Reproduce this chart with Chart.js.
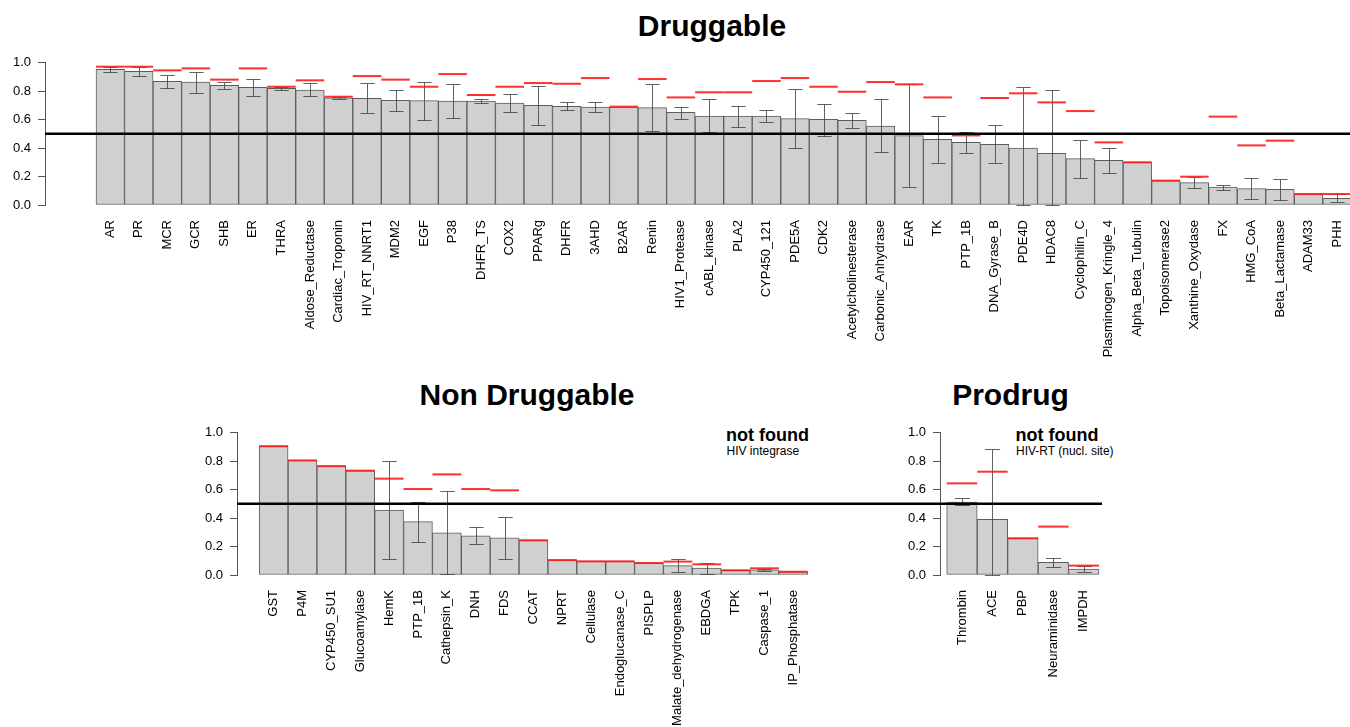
<!DOCTYPE html>
<html>
<head>
<meta charset="utf-8">
<script src="https://cdn.jsdelivr.net/npm/chart.js@4.4.1/dist/chart.umd.min.js"></script>
<style>
  html, body { margin: 0; padding: 0; background: #fff; }
  body { width: 1350px; height: 727px; overflow: hidden; position: relative;
         font-family: "Liberation Sans", Arial, sans-serif; color: #000; }
  canvas { position: absolute; }
  .title { position: absolute; font-weight: bold; font-size: 30px; line-height: 30px;
           white-space: nowrap; transform: translateX(-50%); }
  .nf { position: absolute; font-weight: bold; font-size: 18px; line-height: 18px; white-space: nowrap; }
  .nfs { position: absolute; font-size: 12px; line-height: 12px; white-space: nowrap; }
</style>
</head>
<body>
<div class="title" style="left:712px; top:10.6px;">Druggable</div>
<div class="title" style="left:527px; top:380px;">Non Druggable</div>
<div class="title" style="left:1010.5px; top:380px;">Prodrug</div>
<div class="nf" style="left:726px; top:425.5px;">not found</div>
<div class="nfs" style="left:726.5px; top:444.5px;">HIV integrase</div>
<div class="nf" style="left:1015.5px; top:425.5px;">not found</div>
<div class="nfs" style="left:1016px; top:445px;">HIV-RT (nucl. site)</div>

<canvas id="c1" width="1420" height="360" style="left:0px; top:0px; width:1420px; height:360px;"></canvas>
<canvas id="c2" width="748" height="360" style="left:192px; top:370px; width:748px; height:360px;"></canvas>
<canvas id="c3" width="210" height="360" style="left:895px; top:370px; width:210px; height:360px;"></canvas>

<script>
// ---- Druggable targets ----
const drugNames = ['AR','PR','MCR','GCR','SHB','ER','THRA','Aldose_Reductase','Cardiac_Troponin',
  'HIV_RT_NNRT1','MDM2','EGF','P38','DHFR_TS','COX2','PPARg','DHFR','3AHD','B2AR','Renin',
  'HIV1_Protease','cABL_kinase','PLA2','CYP450_121','PDE5A','CDK2','Acetylcholinesterase',
  'Carbonic_Anhydrase','EAR','TK','PTP_1B','DNA_Gyrase_B','PDE4D','HDAC8','Cyclophilin_C',
  'Plasminogen_Kringle_4','Alpha_Beta_Tubulin','Topoisomerase2','Xanthine_Oxydase','FX',
  'HMG_CoA','Beta_Lactamase','ADAM33','PHH'];
const drugMean = [0.953,0.939,0.869,0.864,0.841,0.827,0.820,0.808,0.754,0.749,0.735,0.733,0.731,
  0.731,0.717,0.700,0.693,0.689,0.689,0.684,0.651,0.625,0.625,0.625,0.607,0.602,0.595,0.555,
  0.487,0.461,0.440,0.426,0.400,0.363,0.326,0.314,0.300,0.171,0.157,0.126,0.115,0.110,0.077,0.047];
const drugLow = [0.932,0.906,0.822,0.787,0.815,0.768,0.806,0.766,0.748,0.646,0.660,0.600,0.611,
  0.717,0.656,0.564,0.665,0.653,null,0.522,0.604,0.513,0.550,0.581,0.398,0.487,0.543,0.372,
  0.129,0.295,0.365,0.293,0.0,0.0,0.192,0.222,null,null,0.119,0.108,0.040,0.035,null,0.019];
const drugHigh = [0.967,0.967,0.911,0.937,0.862,0.885,0.831,0.855,0.758,0.855,0.810,0.867,0.852,
  0.745,0.778,0.834,0.724,0.726,null,0.848,0.691,0.742,0.698,0.667,0.813,0.712,0.649,0.742,
  0.848,0.623,0.515,0.560,0.827,0.810,0.459,0.400,null,null,0.197,0.138,0.190,0.185,null,0.075];
const drugBest = [0.972,0.972,0.946,0.960,0.881,0.960,0.831,0.876,0.761,0.906,0.881,0.831,0.920,
  0.773,0.831,0.857,0.852,0.892,0.691,0.885,0.756,0.792,0.792,0.871,0.892,0.831,0.796,0.864,
  0.848,0.756,0.489,0.752,0.785,0.721,0.660,0.440,0.300,0.171,0.199,0.621,0.419,0.452,0.077,0.077];

// ---- Non druggable targets ----
const nonNames = ['GST','P4M','CYP450_SU1','Glucoamylase','HemK','PTP_1B','Cathepsin_K','DNH','FDS',
  'CCAT','NPRT','Cellulase','Endoglucanase_C','PISPLP','Malate_dehydrogenase','EBDGA','TPK',
  'Caspase_1','IP_Phosphatase'];
const nonMean = [0.905,0.805,0.765,0.733,0.457,0.375,0.297,0.276,0.262,0.244,0.105,0.096,0.096,
  0.084,0.066,0.049,0.033,0.037,0.023];
const nonLow = [null,null,null,null,0.115,0.234,0.009,0.215,0.112,null,null,null,null,null,
  0.019,0.009,null,0.028,null];
const nonHigh = [null,null,null,null,0.799,0.513,0.588,0.335,0.410,null,null,null,null,null,
  0.110,0.087,null,0.042,null];
const nonBest = [0.905,0.805,0.765,0.733,0.677,0.604,0.707,0.604,0.595,0.244,0.105,0.096,0.096,
  0.084,0.094,0.075,0.033,0.047,0.023];

// ---- Prodrug targets ----
const proNames = ['Thrombin','ACE','PBP','Neuraminidase','IMPDH'];
const proMean = [0.513,0.391,0.258,0.089,0.042];
const proLow  = [0.494,0.0,null,0.059,0.023];
const proHigh = [0.539,0.885,null,0.119,0.066];
const proBest = [0.644,0.726,0.258,0.340,0.066];

const yTicks = [0, 0.2, 0.4, 0.6, 0.8, 1.0];
const threshold = 0.5;

const FONT = "'Liberation Sans', Arial, sans-serif";

function unitPx(chart) {
  const x = chart.scales.x;
  return Math.abs(x.getPixelForValue(1) - x.getPixelForValue(0));
}

// lineToEdge: extend the threshold line to the right edge of the canvas
function makeChart(id, names, mean, low, high, best, xMin, xMax, padRight, lineToEdge) {
  const errorBars = {
    id: 'errorBars_' + id,
    afterDatasetDraw(chart, args) {
      if (args.index !== 0) return;
      const { ctx, scales: { x, y } } = chart;
      const half = unitPx(chart) / 4;
      ctx.save();
      ctx.strokeStyle = 'rgba(70,70,70,0.85)';
      ctx.lineWidth = 1;
      low.forEach((lo, i) => {
        if (lo === null || high[i] === null) return;
        const px = Math.round(x.getPixelForValue(i)) + 0.5;
        const y1 = Math.round(y.getPixelForValue(lo)) + 0.5;
        const y2 = Math.round(y.getPixelForValue(high[i])) + 0.5;
        ctx.beginPath();
        ctx.moveTo(px, y1); ctx.lineTo(px, y2);
        ctx.moveTo(px - half, y1); ctx.lineTo(px + half, y1);
        ctx.moveTo(px - half, y2); ctx.lineTo(px + half, y2);
        ctx.stroke();
      });
      ctx.restore();
    }
  };
  const thresholdLine = {
    id: 'threshold_' + id,
    afterDatasetsDraw(chart) {
      const { ctx, chartArea, scales: { y } } = chart;
      const py = y.getPixelForValue(threshold);
      ctx.save();
      ctx.strokeStyle = '#000';
      ctx.lineWidth = 2.5;
      ctx.beginPath();
      ctx.moveTo(chartArea.left, py);
      ctx.lineTo(lineToEdge ? chart.width : chartArea.right - 3, py);
      ctx.stroke();
      ctx.restore();
    }
  };

  return new Chart(document.getElementById(id), {
    data: {
      datasets: [
        {
          type: 'bar',
          data: mean.map((v, i) => ({ x: i, y: v })),
          backgroundColor: '#d0d0d0',
          borderColor: '#5c5c5c',
          borderWidth: 1,
          borderSkipped: false,
          barPercentage: 1.0,
          categoryPercentage: 1.0,
          order: 2
        },
        {
          type: 'line',
          data: best.map((v, i) => ({ x: i, y: v })),
          showLine: false,
          pointStyle: 'line',
          pointRadius: (c) => unitPx(c.chart) / 2,
          pointHoverRadius: (c) => unitPx(c.chart) / 2,
          pointBorderColor: 'rgba(255,25,25,0.9)',
          pointBorderWidth: 2,
          clip: false,
          order: 1
        }
      ]
    },
    options: {
      responsive: false,
      animation: false,
      devicePixelRatio: 1,
      layout: { padding: { top: 62.7, left: 0, right: padRight, bottom: 0 } },
      plugins: { legend: { display: false }, tooltip: { enabled: false }, title: { display: false } },
      events: [],
      scales: {
        x: {
          type: 'linear',
          min: xMin,
          max: xMax,
          offset: false,
          bounds: 'data',
          grid: { display: false, drawTicks: false, offset: false },
          border: { display: false },
          // one tick per bar, labelled with the target name
          afterBuildTicks: (s) => { s.ticks = names.map((n, i) => ({ value: i })); },
          ticks: {
            autoSkip: false,
            minRotation: 90,
            maxRotation: 90,
            padding: 15,
            color: '#000',
            font: { family: FONT, size: 13 },
            callback: (v) => {
              const k = Math.round(v);
              return (k >= 0 && k < names.length) ? names[k] : '';
            }
          },
          afterFit: (s) => { s.height = 155; s.paddingLeft = 0; s.paddingRight = 0; }
        },
        y: {
          type: 'linear',
          min: 0,
          max: 1,
          afterBuildTicks: (s) => { s.ticks = yTicks.map(v => ({ value: v })); },
          grid: { display: true, drawOnChartArea: false, drawTicks: true, tickLength: 7, color: '#555' },
          border: { display: true, color: '#555', width: 1 },
          ticks: {
            padding: 7,
            color: '#000',
            font: { family: FONT, size: 13 },
            callback: (v) => Number(v).toFixed(1)
          },
          afterFit: (s) => { s.width = 45; s.paddingTop = 0; s.paddingBottom = 0; }
        }
      }
    },
    plugins: [errorBars, thresholdLine]
  });
}

makeChart('c1', drugNames, drugMean, drugLow, drugHigh, drugBest, -2.2876, 45.907, 0, true);
makeChart('c2', nonNames, nonMean, nonLow, nonHigh, nonBest, -1.269, 19.27, 110, true);
makeChart('c3', proNames, proMean, proLow, proHigh, proBest, -0.72, 4.695, 0, false);
</script>
</body>
</html>
